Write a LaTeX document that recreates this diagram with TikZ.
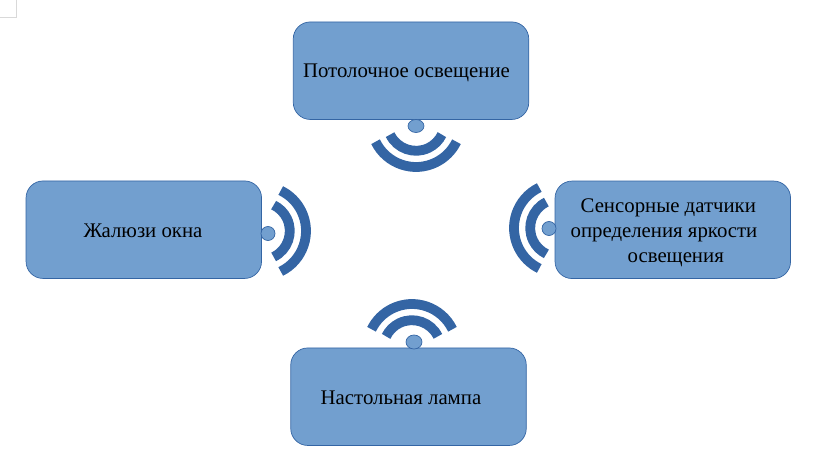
\documentclass[tikz,border=0pt]{standalone}
\usepackage{fontspec}
\setmainfont{Liberation Serif}
\usetikzlibrary{positioning,shapes.geometric}
\definecolor{boxfill}{HTML}{729FCF}
\definecolor{boxline}{HTML}{3465A4}
\tikzset{
	box/.style={draw=boxline,fill=boxfill,rectangle,rounded corners=17pt,line width=.7pt,minimum width=235.5pt,minimum height=97.5pt,inner sep=0pt},
	dot/.style={draw=boxline,fill=boxfill,ellipse,line width=.7pt,inner sep=0pt},
	wave/.style={draw=boxline,line width=9.8pt},
	lbl/.style={inner sep=0pt,font=\fontsize{20.8pt}{24.9pt}\selectfont},
	cornermark/.style={draw=black!15,line width=1pt}
}
\newcommand{\waves}[3]{%
	\foreach \r in {28.8,45}
		\draw[wave] (#1,#2) ++(#3-64:\r) arc[start angle=#3-64,end angle=#3+64,radius=\r];
}

\begin{document}
\begin{tikzpicture}[x=1pt,y=1pt]
	\useasboundingbox (0,0) rectangle (822,467);
	\draw[cornermark] (16,467) |- (0,449);
	\node[box] (ceiling) at (411,396.3) {};
	\node[box] (blinds) at (143.8,237.3) {};
	\node[box] (sensors) at (672.8,237.2) {};
	\node[box] (lamp) at (408.5,70.3) {};
	\node[dot,minimum width=16pt,minimum height=13pt] (dotc) at (416,341) {};
	\node[dot,minimum width=14pt,minimum height=14pt] (dotb) at (268,233.5) {};
	\node[dot,minimum width=14pt,minimum height=14pt] (dots) at (549,238.5) {};
	\node[dot,minimum width=16pt,minimum height=14pt] (dotl) at (414,125) {};
	\waves{416}{345}{270}
	\waves{261}{236}{0}
	\waves{559}{239}{180}
	\waves{412}{118}{90}
	\node[lbl] (ceilingtext) at (406.5,393.8) {Потолочное освещение};
	\node[lbl] (blindstext) at (143,236.5) {Жалюзи окна};
	\node[lbl,align=left] (sensorstext) at (664,234.5) {\hspace*{10pt}Сенсорные датчики\\определения яркости\\\hspace*{57pt}освещения};
	\node[lbl] (lamptext) at (401,69) {Настольная лампа};
\end{tikzpicture}
\end{document}
